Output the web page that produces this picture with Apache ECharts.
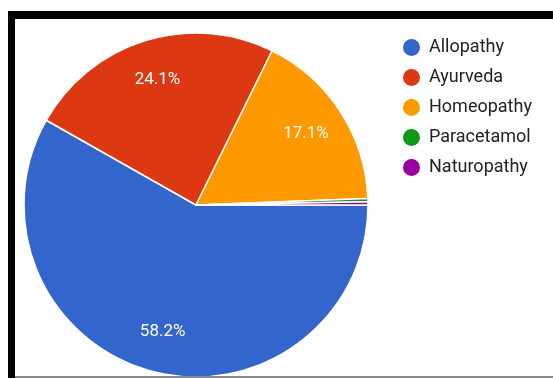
<!DOCTYPE html>
<html>
<head>
<meta charset="utf-8">
<script src="https://cdn.jsdelivr.net/npm/echarts@6/dist/echarts.min.js"></script>
<style>
  html, body { margin: 0; padding: 0; background: #fff; }
  #wrap { position: relative; width: 553px; height: 378px; overflow: hidden; }
  #chart { position: absolute; left: 0; top: 0; width: 553px; height: 378px; }
  .bar { position: absolute; }
</style>
</head>
<body>
<div id="wrap">
  <div id="chart"></div>
  <div class="bar" style="left:8px;top:11px;width:545px;height:8px;background:#000;"></div>
  <div class="bar" style="left:8px;top:11px;width:7px;height:367px;background:#000;"></div>
  <div class="bar" style="left:15px;top:376px;width:538px;height:2px;background:#8a8a8a;"></div>
</div>
<script>
// Share of respondents by preferred system of medicine (%)
const categories = ['Allopathy', 'Ayurveda', 'Homeopathy', 'Paracetamol', 'Naturopathy'];
const shares = [58.2, 24.1, 17.1, 0.3, 0.3];
const colors = ['#3366cc', '#dc3912', '#ff9900', '#109618', '#990099'];

const pieData = categories.map((name, i) => ({ name, value: shares[i] }));
const center = [196, 205];
const radius = 172;

const chart = echarts.init(document.getElementById('chart'), null, { renderer: 'canvas' });
chart.setOption({
  animation: false,
  color: colors,
  textStyle: { fontFamily: 'Roboto' },
  legend: {
    orient: 'vertical',
    left: 401,
    top: 37,
    padding: 0,
    icon: 'circle',
    itemWidth: 19,
    itemHeight: 19,
    itemGap: 9,
    textStyle: { fontFamily: 'Roboto', fontSize: 18, color: '#222', padding: [0, 0, 0, 3] },
    data: categories
  },
  series: [
    {
      // slices
      type: 'pie',
      center: center,
      radius: [0, radius],
      startAngle: 0,
      clockwise: true,
      silent: true,
      itemStyle: { borderColor: '#fff', borderWidth: 1.5 },
      label: { show: false },
      labelLine: { show: false },
      data: pieData
    },
    {
      // percentage labels, placed further out along each slice
      type: 'pie',
      center: center,
      radius: [84, radius],
      startAngle: 0,
      clockwise: true,
      silent: true,
      legendHoverLink: false,
      itemStyle: { color: 'rgba(0,0,0,0)', borderWidth: 0 },
      label: {
        show: true,
        position: 'inside',
        fontFamily: 'Roboto',
        fontSize: 17,
        color: '#fff',
        formatter: p => (p.value >= 5 ? p.value.toFixed(1) + '%' : '')
      },
      labelLine: { show: false },
      data: pieData
    }
  ]
});
</script>
</body>
</html>
